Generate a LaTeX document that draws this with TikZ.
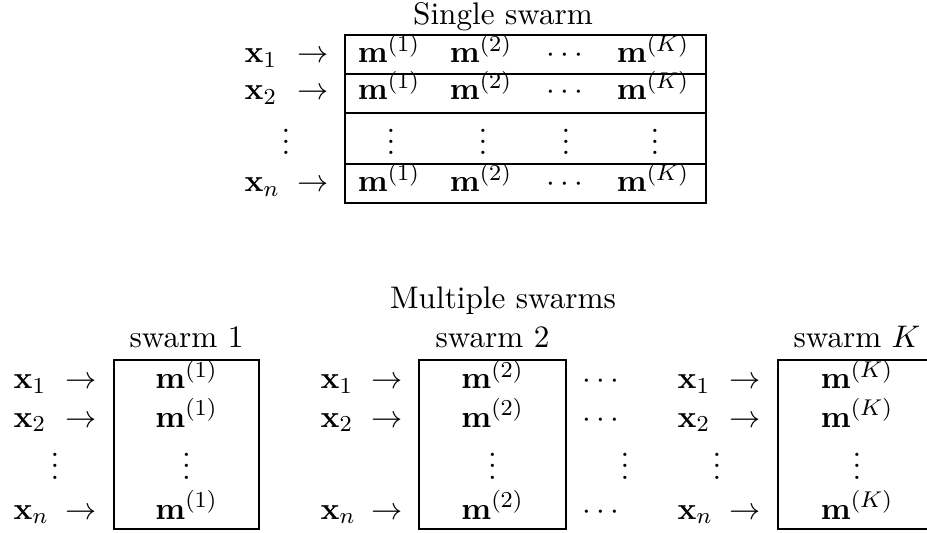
\documentclass[11pt,tikz,border=0pt]{standalone}
\begin{document}
\begin{tikzpicture}[x=0.3509pt,y=-0.3509pt,
  txt/.style={inner sep=0pt, anchor=base},
  txtw/.style={inner sep=0pt, anchor=base west},
  frame/.style={draw=black, line width=0.4pt}]
\useasboundingbox (0,0) rectangle (927,533);

% ---------- Single swarm ----------
\node[txt] (ts) at (503,25) {Single swarm};
\draw[frame] (345,35) rectangle (706,203);
\foreach \y in {74,113,164} \draw[frame] (345,\y) -- (706,\y);

\foreach \r/\yb in {1/63,2/100,n/192} {
  \node[txtw] (tx\r) at (244,\yb) {$\mathbf{x}_\r$};
  \node[txtw] (ta\r) at (297,\yb) {$\rightarrow$};
  \node[txt] (tm\r-a) at (389,\yb) {$\mathbf{m}^{(1)}$};
  \node[txt] (tm\r-b) at (481,\yb) {$\mathbf{m}^{(2)}$};
  \node[txt] (tm\r-c) at (565,\yb) {$\cdots$};
  \node[txt] (tm\r-d) at (653,\yb) {$\mathbf{m}^{(K)}$};
}
\foreach \n/\x in {l/286,a/391,b/483,c/566,d/655}
  \node[txt] (tv-\n) at (\x,155) {$\vdots$};

% ---------- Multiple swarms ----------
\node[txt] (ms) at (503,309) {Multiple swarms};
\node[txt] (s1) at (186.5,348) {swarm 1};
\node[txt] (s2) at (492.5,348) {swarm 2};
\node[txt] (sK) at (857,348) {swarm $K$};

\draw[frame] (114,360) rectangle (259,529);
\draw[frame] (419,360) rectangle (566,529);
\draw[frame] (778,360) rectangle (937,529);

\foreach \r/\yb in {1/389,2/427,n/519} {
  \node[txtw] (ax\r) at (13,\yb) {$\mathbf{x}_\r$};
  \node[txtw] (aa\r) at (65,\yb) {$\rightarrow$};
  \node[txt] (am\r) at (186.5,\yb) {$\mathbf{m}^{(1)}$};
  \node[txtw] (bx\r) at (320,\yb) {$\mathbf{x}_\r$};
  \node[txtw] (ba\r) at (371,\yb) {$\rightarrow$};
  \node[txt] (bm\r) at (492.5,\yb) {$\mathbf{m}^{(2)}$};
  \node[txt] (dc\r) at (601,\yb) {$\cdots$};
  \node[txtw] (kx\r) at (677,\yb) {$\mathbf{x}_\r$};
  \node[txtw] (ka\r) at (729,\yb) {$\rightarrow$};
  \node[txt] (km\r) at (857,\yb) {$\mathbf{m}^{(K)}$};
}
\node[txt] (av-l) at (55,479) {$\vdots$};
\node[txt] (av-b) at (186.5,479) {$\vdots$};
\node[txt] (bv-b) at (492.5,479) {$\vdots$};
\node[txt] (dv) at (625,479) {$\vdots$};
\node[txt] (kv-l) at (717,479) {$\vdots$};
\node[txt] (kv-b) at (857,479) {$\vdots$};
\end{tikzpicture}
\end{document}
